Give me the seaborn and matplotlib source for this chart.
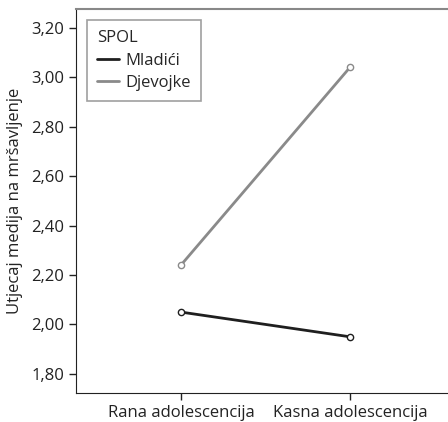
import pandas as pd
import matplotlib
matplotlib.use("Agg")
import matplotlib.pyplot as plt
from matplotlib.lines import Line2D
from matplotlib.ticker import FuncFormatter
import seaborn as sns

# Data
periods = ["Rana adolescencija", "Kasna adolescencija"]
mladici = [2.05, 1.95]
djevojke = [2.24, 3.04]
groups = ["Mladići", "Djevojke"]
colors = ["#1f1f1f", "#8a8a8a"]


def build_frame():
    rows = []
    for name, vals in zip(groups, [mladici, djevojke]):
        for p, v in zip(periods, vals):
            rows.append({"period": p, "value": v, "SPOL": name})
    return pd.DataFrame(rows)


def main():
    sns.set_style("white")
    plt.rcParams["font.family"] = ["Open Sans", "DejaVu Sans"]

    df = build_frame()

    fig = plt.figure(figsize=(4.48, 4.22), dpi=100)
    ax = fig.add_axes([0.170, 0.069, 0.86, 0.910])

    sns.lineplot(
        data=df,
        x="period",
        y="value",
        hue="SPOL",
        palette=dict(zip(groups, colors)),
        marker="o",
        markersize=4.5,
        markerfacecolor="white",
        markeredgewidth=1.0,
        linewidth=2.0,
        legend=False,
        ax=ax
    )

    # open circle markers in the line colour
    for line in ax.lines:
        line.set_markeredgecolor(line.get_color())

    ax.set_ylim(1.723, 3.277)
    ax.set_xlim(-0.62, 1.66)
    ax.set_yticks([1.8, 2.0, 2.2, 2.4, 2.6, 2.8, 3.0, 3.2])
    ax.yaxis.set_major_formatter(
        FuncFormatter(lambda v, _: f"{v:.2f}".replace(".", ","))
    )

    ax.set_xlabel("")
    ax.set_ylabel("Utjecaj medija na mršavljenje", fontsize=12, color="#222222", labelpad=6)

    ax.tick_params(axis="both", labelsize=12, colors="#222222", length=5, width=1,
                   direction="out", left=True, bottom=True)

    ax.spines["left"].set_color("#222222")
    ax.spines["bottom"].set_color("#222222")
    ax.spines["top"].set_color("#888888")
    ax.spines["top"].set_linewidth(1.5)
    ax.spines["right"].set_visible(False)

    handles = [Line2D([0], [0], color=c, linewidth=2) for c in colors]
    leg = ax.legend(
        handles, groups, title="SPOL",
        loc="upper left", bbox_to_anchor=(0.029, 0.971),
        borderaxespad=0,
        fontsize=12, title_fontsize=12,
        frameon=True, fancybox=False, edgecolor="#888888",
        handlelength=1.3, handletextpad=0.4, borderpad=0.6,
        labelspacing=0.4
    )
    leg.get_frame().set_linewidth(1.2)
    leg._legend_box.align = "left"

    fig.savefig("out.png", dpi=100)


if __name__ == "__main__":
    main()
